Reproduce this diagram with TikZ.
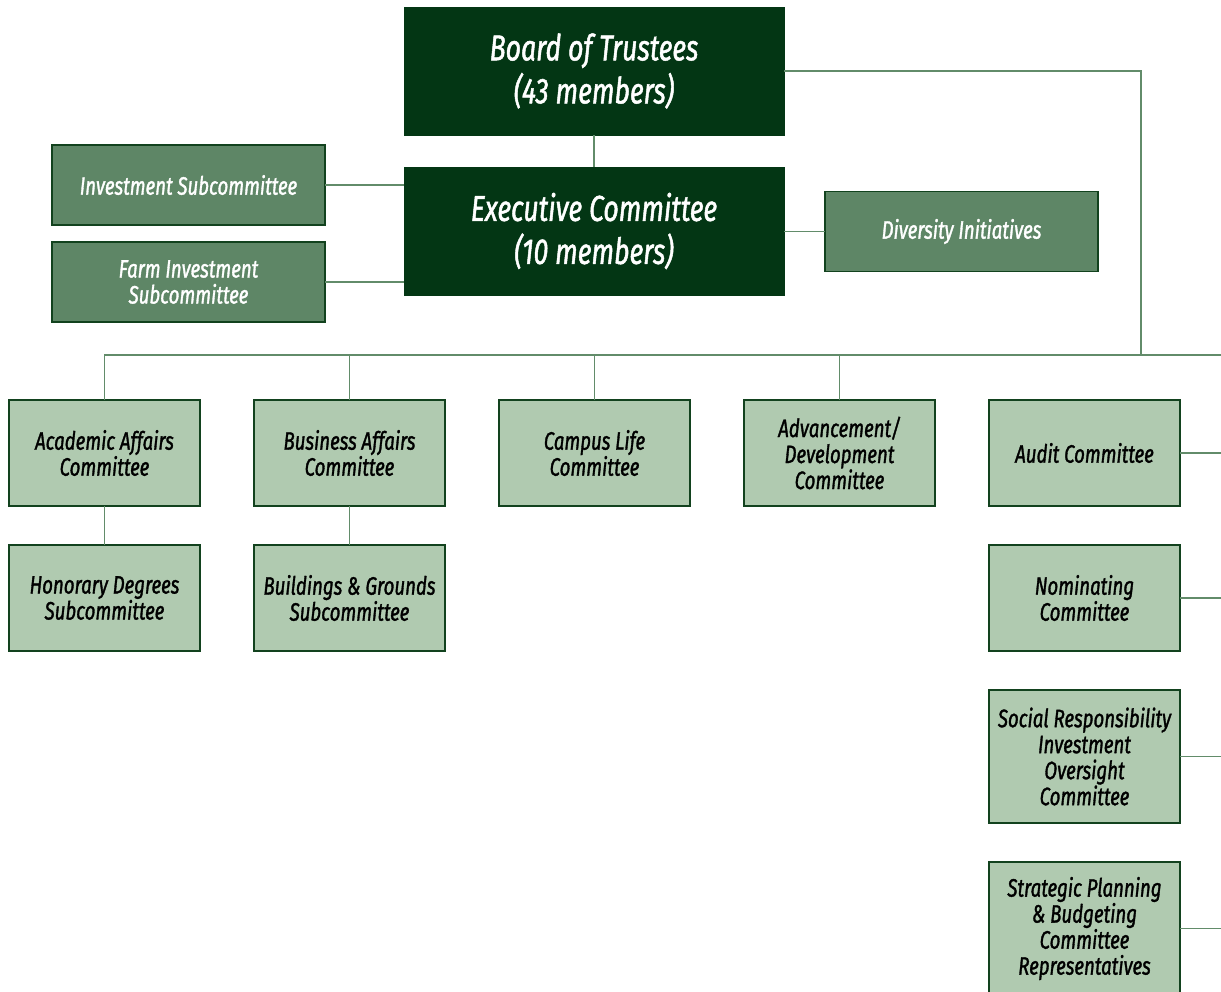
\documentclass[tikz,border=0pt]{standalone}
\usepackage{fontspec}
\setmainfont{Fira Sans}[FakeStretch=0.74,ItalicFeatures={FakeBold=1.3}]
\usepackage{xcolor}
\usetikzlibrary{positioning}
\definecolor{boarddark}{RGB}{3,54,20}
\definecolor{panelmid}{RGB}{94,134,102}
\definecolor{panellight}{RGB}{176,202,176}
\definecolor{panelrim}{RGB}{18,66,30}
\definecolor{linkgreen}{RGB}{98,140,106}
\tikzset{
  trustee/.style={
    draw=boarddark,
    fill=boarddark,
    text=white,
    minimum width=190pt,
    minimum height=64pt,
    inner sep=0pt,
    outer sep=0pt,
    align=center,
    font=\fontsize{18}{21.5}\selectfont\itshape
  },
  subpanel/.style={
    draw=panelrim,
    line width=0.9pt,
    fill=panelmid,
    text=white,
    minimum width=136.5pt,
    minimum height=40pt,
    inner sep=0pt,
    outer sep=0pt,
    align=center,
    font=\fontsize{12.6}{13}\selectfont\itshape
  },
  committee/.style={
    draw=panelrim,
    line width=0.9pt,
    fill=panellight,
    text=black,
    minimum width=95.5pt,
    minimum height=53pt,
    inner sep=0pt,
    outer sep=0pt,
    align=center,
    font=\fontsize{12.6}{13}\selectfont\itshape
  },
  link/.style={draw=linkgreen,line width=0.9pt}
}
\begin{document}
\begin{tikzpicture}[x=0.5pt,y=-0.5pt,node distance=19.5pt and 27pt]
  \useasboundingbox (0,0) rectangle (1221,991);
  \node[trustee] (board) at (594,71) {Board of Trustees\\(43 members)};
  \node[trustee,below=16pt of board] (exec) {Executive Committee\\(10 members)};
  \node[subpanel] (invest) at (188.5,185) {Investment Subcommittee};
  \node[subpanel] (farm) at (188.5,282) {Farm Investment\\Subcommittee};
  \node[subpanel] (divers) at (961.5,231.5) {Diversity Initiatives};
  \node[committee] (acad) at (104.5,453) {Academic Affairs\\Committee};
  \node[committee,right=of acad] (busi) {Business Affairs\\Committee};
  \node[committee,right=of busi] (campus) {Campus Life\\Committee};
  \node[committee,right=of campus] (advance) {Advancement/\\Development\\Committee};
  \node[committee,right=of advance] (audit) {Audit Committee};
  \node[committee,below=of acad] (honor) {Honorary Degrees\\Subcommittee};
  \node[committee,below=of busi] (ground) {Buildings \& Grounds\\Subcommittee};
  \node[committee,below=of audit] (nomin) {Nominating\\Committee};
  \node[committee,below=of nomin,minimum height=66.5pt] (social) {Social Responsibility\\Investment\\Oversight\\Committee};
  \node[committee,below=of social,minimum height=66.5pt] (strat) {Strategic Planning\\\& Budgeting\\Committee\\Representatives};
  \coordinate (busR) at (1221,355);
  \coordinate (busJ) at (1141,355);
  \draw[link] (board) -- (exec);
  \draw[link] (invest.east) -- (invest.east -| exec.west);
  \draw[link] (farm.east) -- (farm.east -| exec.west);
  \draw[link] (exec.east |- divers.west) -- (divers.west);
  \draw[link] (board.east) -| (busJ);
  \draw[link] (acad.north) |- (busR);
  \draw[link] (busi.north) -- (busi.north |- busR);
  \draw[link] (campus.north) -- (campus.north |- busR);
  \draw[link] (advance.north) -- (advance.north |- busR);
  \draw[link] (acad) -- (honor);
  \draw[link] (busi) -- (ground);
  \draw[link] (audit.east) -- (audit.east -| busR);
  \draw[link] (nomin.east) -- (nomin.east -| busR);
  \draw[link] (social.east) -- (social.east -| busR);
  \draw[link] (strat.east) -- (strat.east -| busR);
\end{tikzpicture}
\end{document}
